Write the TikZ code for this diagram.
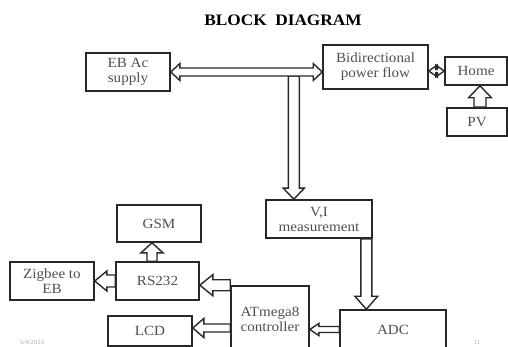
\documentclass[tikz,border=0pt]{standalone}
\usepackage{fontspec}
\setmainfont{Liberation Serif}[FakeStretch=1.08]
\usetikzlibrary{calc}
\definecolor{txt}{RGB}{80,80,80}
\definecolor{edge}{RGB}{40,40,40}
\definecolor{foot}{RGB}{175,175,175}
\tikzset{
  box/.style={draw=edge, line width=1.6pt, fill=white, align=center, text=txt, inner sep=0pt,
    font=\fontsize{14}{15}\selectfont},
  blk/.style={draw=edge, line width=1.4pt, fill=white, line join=miter},
  titletxt/.style={font=\bfseries\fontsize{16}{18}\selectfont, text=black},
  foottxt/.style={font=\fontsize{6.5}{7}\selectfont, text=foot}
}
% hollow block arrow: #1 from, #2 to, #3 shaft half width, #4 head half width, #5 head length
\newcommand\blkarrow[5]{%
  \coordinate (ba-s) at (#1);
  \coordinate (ba-e) at (#2);
  \coordinate (ba-h) at ($(ba-e)!#5!(ba-s)$);
  \draw[blk] ($(ba-s)!#3!90:(ba-e)$) -- ($(ba-h)!#3!90:(ba-e)$) -- ($(ba-h)!#4!90:(ba-e)$)
    -- (ba-e) -- ($(ba-h)!#4!-90:(ba-e)$) -- ($(ba-h)!#3!-90:(ba-e)$)
    -- ($(ba-s)!#3!-90:(ba-e)$) -- cycle;
}
% hollow double-headed block arrow
\newcommand\blkdarrow[5]{%
  \coordinate (ba-s) at (#1);
  \coordinate (ba-e) at (#2);
  \coordinate (ba-hs) at ($(ba-s)!#5!(ba-e)$);
  \coordinate (ba-he) at ($(ba-e)!#5!(ba-s)$);
  \draw[blk] (ba-s) -- ($(ba-hs)!#4!90:(ba-e)$) -- ($(ba-hs)!#3!90:(ba-e)$)
    -- ($(ba-he)!#3!90:(ba-e)$) -- ($(ba-he)!#4!90:(ba-e)$) -- (ba-e)
    -- ($(ba-he)!#4!-90:(ba-e)$) -- ($(ba-he)!#3!-90:(ba-e)$)
    -- ($(ba-hs)!#3!-90:(ba-e)$) -- ($(ba-hs)!#4!-90:(ba-e)$) -- cycle;
}
\begin{document}
\begin{tikzpicture}[x=1pt,y=-1pt]
\useasboundingbox (0,0) rectangle (508,347);
\clip (0,0) rectangle (508,347);

\node[titletxt] (title) at (283,20) {BLOCK\ \ DIAGRAM};

\node[box, minimum width=84pt, minimum height=38pt] (eb) at (128,72) {EB Ac\\supply};
\node[box, minimum width=105pt, minimum height=44pt] (bidir) at (375.5,67) {Bidirectional\\power flow};
\node[box, minimum width=62pt, minimum height=28pt] (home) at (476,71) {Home};
\node[box, minimum width=60pt, minimum height=28pt] (pv) at (477,122) {PV};
\node[box, minimum width=106pt, minimum height=38pt] (vi) at (319,219) {V,I\\measurement};
\node[box, minimum width=106pt, minimum height=39pt] (adc) at (393,329.5) {ADC};
\node[box, minimum width=78pt, minimum height=66pt] (atm) at (270,319) {ATmega8\\controller};
\node[box, minimum width=83pt, minimum height=38pt] (rs) at (157.5,281) {RS232};
\node[box, minimum width=84pt, minimum height=37pt] (gsm) at (159,223.5) {GSM};
\node[box, minimum width=84pt, minimum height=38pt] (zig) at (52,281) {Zigbee to\\EB};
\node[box, minimum width=84pt, minimum height=30pt] (lcd) at (150,331) {LCD};

\node[foottxt] (date) at (32,342) {3/4/2016};
\node[foottxt] (page) at (477,342) {11};

% connectors
\coordinate (split) at ($(eb.east)+(123,4)$);
\blkarrow{split}{vi.north -| split}{5.5pt}{10.5pt}{11pt}
\blkdarrow{eb.east}{bidir.west |- eb.east}{4pt}{8.5pt}{9pt}
\blkdarrow{bidir.east |- home.west}{home.west}{1.5pt}{6pt}{8.5pt}
\coordinate (pvout) at ($(pv.north)+(3,0)$);
\blkarrow{pvout}{home.south -| pvout}{6pt}{11.5pt}{12pt}
\coordinate (viout) at ($(vi.south east)+(-6.5,0)$);
\blkarrow{viout}{adc.north -| viout}{5.5pt}{11.5pt}{13pt}
\blkarrow{adc.west}{atm.east |- adc.west}{3pt}{6pt}{9pt}
\blkarrow{atm.north west}{rs.east |- atm.north west}{5.5pt}{10.5pt}{13pt}
\coordinate (lcdin) at ($(lcd.east)+(0,-3)$);
\blkarrow{atm.west |- lcdin}{lcdin}{4pt}{9.5pt}{11pt}
\coordinate (rsout) at ($(rs.north)+(-5.5,0)$);
\blkarrow{rsout}{gsm.south -| rsout}{5pt}{11pt}{10pt}
\blkarrow{rs.west}{zig.east}{6pt}{10pt}{12pt}
\end{tikzpicture}
\end{document}
